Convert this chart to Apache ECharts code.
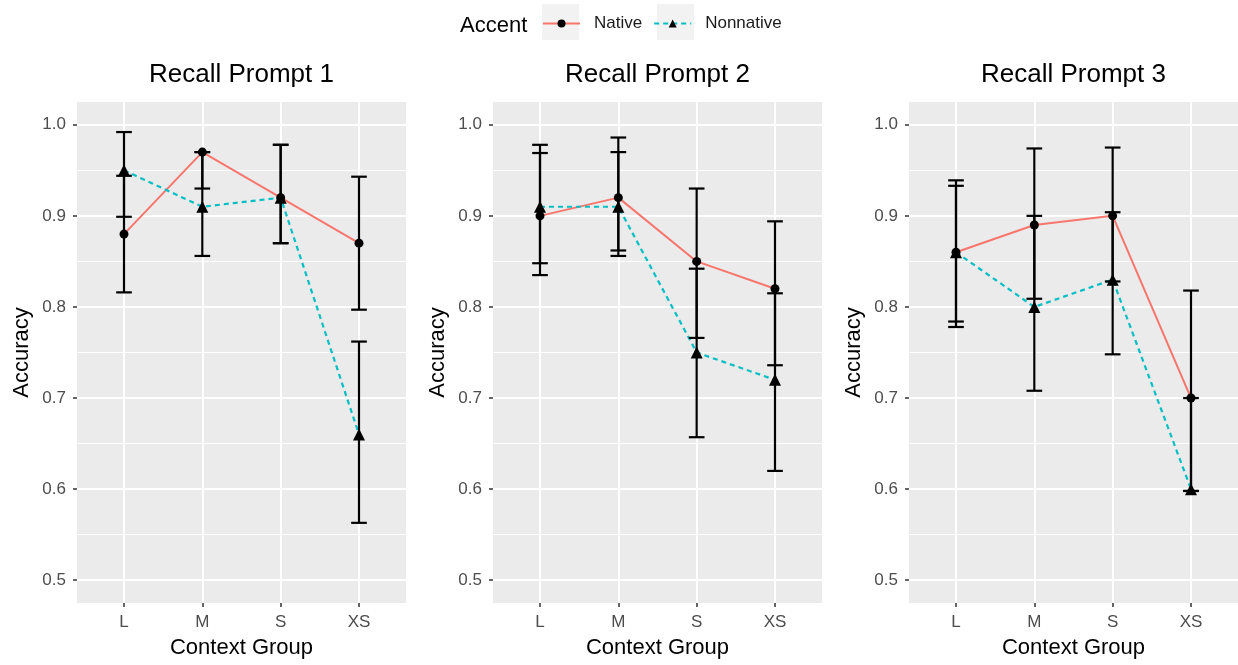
<!DOCTYPE html>
<html>
<head>
<meta charset="utf-8">
<title>Recall accuracy by context group</title>
<script src="https://cdn.jsdelivr.net/npm/echarts@6/dist/echarts.min.js"></script>
<style>
  html, body { margin: 0; padding: 0; background: #fff; }
  #chart { width: 1238px; height: 665px; }
</style>
</head>
<body>
<div id="chart"></div>
<script>
const categories = ["L", "M", "S", "XS"];
const panelTitles = ["Recall Prompt 1", "Recall Prompt 2", "Recall Prompt 3"];
const yTicks = [0.5, 0.6, 0.7, 0.8, 0.9, 1.0];

// mean accuracy per context group, one array per prompt
const native1 = [0.88, 0.97, 0.92, 0.87];
const native2 = [0.90, 0.92, 0.85, 0.82];
const native3 = [0.86, 0.89, 0.90, 0.70];
const nonnative1 = [0.95, 0.91, 0.92, 0.66];
const nonnative2 = [0.91, 0.91, 0.75, 0.72];
const nonnative3 = [0.86, 0.80, 0.83, 0.60];

// error bar ends
const native1Lo = [0.816, 0.930, 0.870, 0.797];
const native1Hi = [0.944, 0.970, 0.978, 0.943];
const native2Lo = [0.835, 0.856, 0.766, 0.736];
const native2Hi = [0.969, 0.986, 0.930, 0.894];
const native3Lo = [0.784, 0.809, 0.828, 0.598];
const native3Hi = [0.939, 0.974, 0.975, 0.818];
const nonnative1Lo = [0.899, 0.856, 0.870, 0.563];
const nonnative1Hi = [0.992, 0.970, 0.978, 0.762];
const nonnative2Lo = [0.848, 0.862, 0.657, 0.620];
const nonnative2Hi = [0.978, 0.970, 0.842, 0.815];
const nonnative3Lo = [0.778, 0.708, 0.748, 0.598];
const nonnative3Hi = [0.933, 0.900, 0.904, 0.700];

const panels = [
	{ native: native1, nonnative: nonnative1, nLo: native1Lo, nHi: native1Hi, oLo: nonnative1Lo, oHi: nonnative1Hi },
	{ native: native2, nonnative: nonnative2, nLo: native2Lo, nHi: native2Hi, oLo: nonnative2Lo, oHi: nonnative2Hi },
	{ native: native3, nonnative: nonnative3, nLo: native3Lo, nHi: native3Hi, oLo: nonnative3Lo, oHi: nonnative3Hi },
];

const FONT = "'Liberation Sans', Arial, sans-serif";
const gridLefts = [77, 493, 909];
const gridWidth = 329;
const catIdx = categories.map((_, i) => i);

const chart = echarts.init(document.getElementById("chart"), null, { renderer: "canvas" });

const renderErrorBar = (params, api) => {
	const x = api.value(0);
	const top = api.coord([x, api.value(2)]);
	const bottom = api.coord([x, api.value(1)]);
	const half = api.size([0.1, 0])[0];
	const style = { stroke: "#000", lineWidth: 2.2 };
	return {
		type: "group",
		children: [
			{ type: "line", shape: { x1: top[0], y1: top[1], x2: bottom[0], y2: bottom[1] }, style },
			{ type: "line", shape: { x1: top[0] - half, y1: top[1], x2: top[0] + half, y2: top[1] }, style },
			{ type: "line", shape: { x1: bottom[0] - half, y1: bottom[1], x2: bottom[0] + half, y2: bottom[1] }, style },
		],
	};
};

const grids = [];
const xAxes = [];
const yAxes = [];
const titles = [];
const series = [];

panels.forEach((p, i) => {
	grids.push({
		left: gridLefts[i],
		top: 102,
		width: gridWidth,
		height: 501,
		show: true,
		backgroundColor: "#EBEBEB",
		borderWidth: 0,
		outerBoundsMode: "none",
	});
	xAxes.push({
		gridIndex: i,
		type: "value",
		min: -0.6,
		max: 3.6,
		axisLine: { show: false, onZero: false },
		axisTick: { show: true, length: 4, customValues: catIdx, lineStyle: { color: "#333", width: 1.5 } },
		axisLabel: {
			customValues: catIdx,
			formatter: (v) => categories[Math.round(v)],
			color: "#4D4D4D",
			fontSize: 17,
			margin: 11,
		},
		splitLine: { show: true, lineStyle: { color: "#fff", width: 2 } },
		name: "Context Group",
		nameLocation: "middle",
		nameGap: 34,
		nameTextStyle: { fontSize: 22, color: "#000" },
	});
	yAxes.push({
		gridIndex: i,
		type: "value",
		min: 0.475,
		max: 1.025,
		splitNumber: 5,
		axisLine: { show: false, onZero: false },
		axisTick: { show: true, length: 4, customValues: yTicks, lineStyle: { color: "#333", width: 1.5 } },
		axisLabel: {
			customValues: yTicks,
			formatter: (v) => v.toFixed(1),
			color: "#4D4D4D",
			fontSize: 17,
			margin: 11,
		},
		splitLine: { show: true, lineStyle: { color: "#fff", width: 2 } },
		minorTick: { show: false, splitNumber: 2 },
		minorSplitLine: { show: true, lineStyle: { color: "#fff", width: 1 } },
		name: "Accuracy",
		nameLocation: "middle",
		nameGap: 44,
		nameTextStyle: { fontSize: 22, color: "#000" },
	});
	titles.push({
		text: panelTitles[i],
		left: gridLefts[i] + gridWidth / 2,
		top: 62,
		textAlign: "center",
		padding: 0,
		textStyle: { fontSize: 26, fontWeight: "normal", color: "#000", fontFamily: FONT },
	});

	const nativeBars = catIdx.map((c) => [c, p.nLo[c], p.nHi[c]]);
	const nonnativeBars = catIdx.map((c) => [c, p.oLo[c], p.oHi[c]]);
	series.push(
		{
			type: "custom",
			name: "Native CI",
			xAxisIndex: i,
			yAxisIndex: i,
			renderItem: renderErrorBar,
			encode: { x: 0, y: [1, 2] },
			data: nativeBars,
			z: 3,
		},
		{
			type: "custom",
			name: "Nonnative CI",
			xAxisIndex: i,
			yAxisIndex: i,
			renderItem: renderErrorBar,
			encode: { x: 0, y: [1, 2] },
			data: nonnativeBars,
			z: 3,
		},
		{
			type: "line",
			name: "Native",
			xAxisIndex: i,
			yAxisIndex: i,
			data: catIdx.map((c) => [c, p.native[c]]),
			symbol: "circle",
			symbolSize: 9,
			itemStyle: { color: "#000" },
			lineStyle: { color: "#F8766D", width: 2 },
			z: 2,
		},
		{
			type: "line",
			name: "Nonnative",
			xAxisIndex: i,
			yAxisIndex: i,
			data: catIdx.map((c) => [c, p.nonnative[c]]),
			symbol: "triangle",
			symbolSize: 12,
			itemStyle: { color: "#000" },
			lineStyle: { color: "#00BFC4", width: 2.2, type: [5, 4] },
			z: 2,
		}
	);
});

titles.push({
	text: "Accent",
	left: 460,
	top: 15,
	padding: 0,
	textStyle: { fontSize: 22, fontWeight: "normal", color: "#000", fontFamily: FONT },
});

chart.setOption({
	animation: false,
	textStyle: { fontFamily: FONT },
	title: titles,
	legend: {
		data: ["Native", "Nonnative"],
		left: 542,
		top: 15,
		padding: 0,
		itemWidth: 37,
		itemHeight: 10,
		itemGap: 11,
		textStyle: { fontSize: 17, color: "#1A1A1A", padding: [3, 0, 0, 9] },
	},
	graphic: [
		{ type: "rect", left: 542, top: 4, shape: { width: 37, height: 36 }, style: { fill: "#F2F2F2" }, z: -1 },
		{ type: "rect", left: 657, top: 4, shape: { width: 37, height: 36 }, style: { fill: "#F2F2F2" }, z: -1 },
	],
	grid: grids,
	xAxis: xAxes,
	yAxis: yAxes,
	series,
});

window.addEventListener("resize", () => chart.resize());
</script>
</body>
</html>
